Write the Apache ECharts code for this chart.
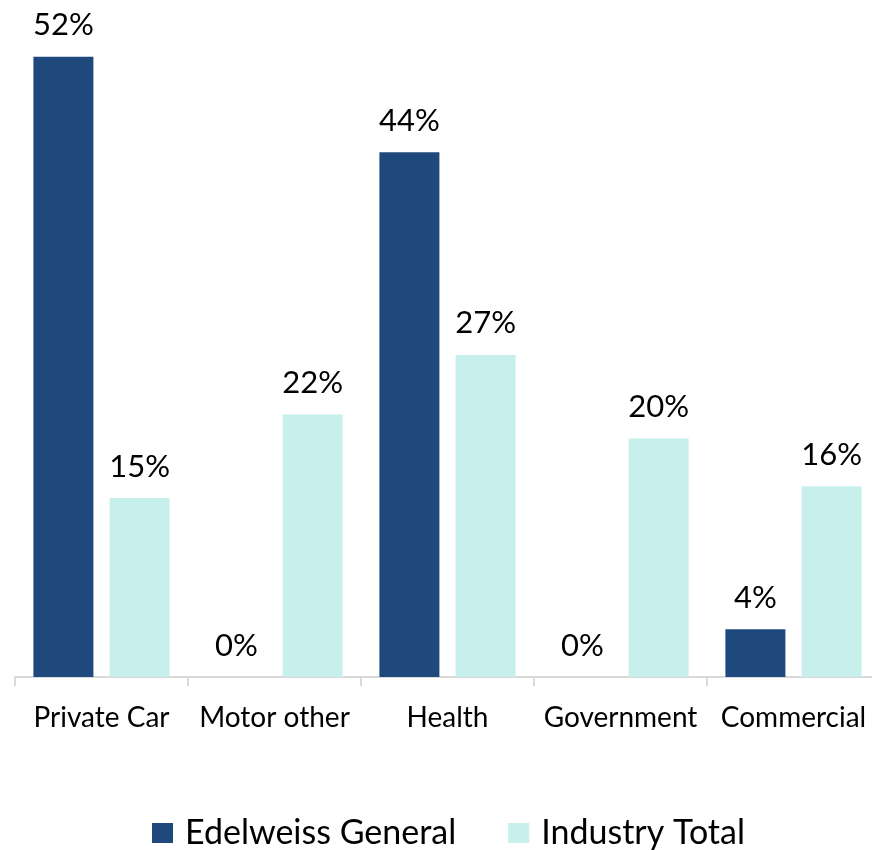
<!DOCTYPE html>
<html>
<head>
<meta charset="utf-8">
<script src="https://cdn.jsdelivr.net/npm/echarts@6/dist/echarts.min.js"></script>
<style>html,body{margin:0;padding:0;background:#fff;overflow:hidden;width:872px;height:850px}#c{width:890px;height:850px}</style>
</head>
<body>
<div id="c"></div>
<script>
const categories = ['Private Car', 'Motor other', 'Health', 'Government', 'Commercial'];
const seriesNames = ['Edelweiss General', 'Industry Total'];
const edelweiss = [52, 0, 44, 0, 4];
const industry = [15, 22, 27, 20, 16];
const colors = ['#1F497D', '#C7EFEC'];
const FONT = 'Lato, "Open Sans", sans-serif';

const chart = echarts.init(document.getElementById('c'), null, {renderer: 'canvas'});
const labelCfg = {
  show: true, position: 'top', distance: 16,
  formatter: p => p.value + '%',
  color: '#000', fontSize: 31, fontFamily: FONT
};
chart.setOption({
  animation: false,
  grid: {left: 15, right: 10, top: 21, bottom: 173, containLabel: false},
  legend: {
    data: seriesNames, left: 147, top: 811,
    itemWidth: 21, itemHeight: 20, itemGap: 52,
    icon: 'rect',
    textStyle: {fontSize: 34, fontFamily: FONT, color: '#000', padding: [0, 0, 0, 7]}
  },
  xAxis: {
    type: 'category', data: categories,
    axisLine: {lineStyle: {color: '#D9D9D9', width: 2}},
    axisTick: {show: true, length: 9, lineStyle: {color: '#D9D9D9', width: 2}},
    axisLabel: {fontSize: 28, fontFamily: FONT, color: '#000', margin: 27, interval: 0}
  },
  yAxis: {type: 'value', min: 0, max: 55, show: false, splitLine: {show: false}},
  series: [
    {name: seriesNames[0], type: 'bar', data: edelweiss, barWidth: 60, barGap: '27%',
     itemStyle: {color: colors[0]}, label: labelCfg},
    {name: seriesNames[1], type: 'bar', data: industry, barWidth: 60, barGap: '27%',
     itemStyle: {color: colors[1]}, label: labelCfg}
  ]
});
</script>
</body>
</html>
